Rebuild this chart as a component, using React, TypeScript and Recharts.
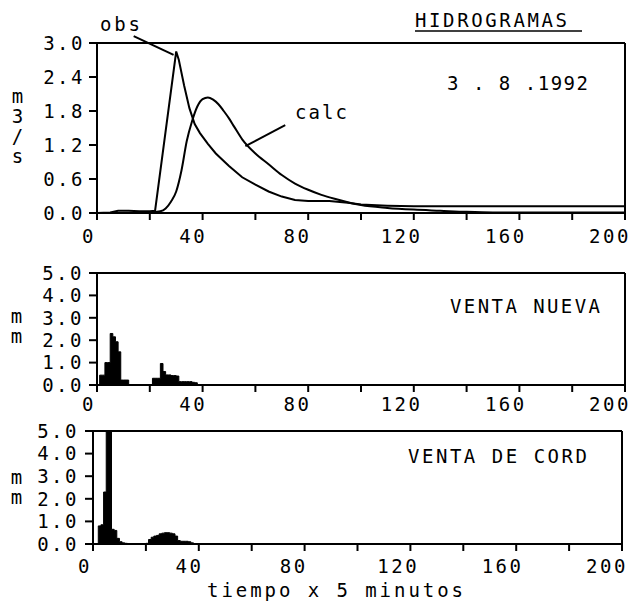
import React from 'react';
import {
  LineChart,
  Line,
  AreaChart,
  Area,
  XAxis,
  YAxis,
  ReferenceLine
} from 'recharts';

const FONT = '"DejaVu Sans Mono", "Liberation Mono", monospace';
const INK = '#000';

// caudal observado (m3/s), paso de tiempo = 5 minutos
const obsTime = [0, 5, 8, 12, 16, 20, 22, 30, 31, 33, 35, 37, 39, 42, 45, 50, 55, 60, 65, 70, 75, 80, 88, 95, 100, 110, 120, 140, 160, 180, 200];
const obsFlow = [0, 0.01, 0.04, 0.04, 0.03, 0.03, 0.04, 2.85, 2.7, 2.25, 1.85, 1.57, 1.41, 1.22, 1.05, 0.83, 0.63, 0.5, 0.38, 0.29, 0.23, 0.21, 0.21, 0.18, 0.15, 0.13, 0.12, 0.12, 0.12, 0.12, 0.12];

// caudal calculado (m3/s)
const calcTime = [0, 20, 24, 26, 28, 30, 32, 34, 36, 38, 40, 42, 44, 46, 48, 50, 52, 55, 60, 65, 70, 75, 80, 85, 90, 95, 100, 110, 120, 130, 140, 150, 200];
const calcFlow = [0, 0.01, 0.03, 0.08, 0.2, 0.38, 0.75, 1.27, 1.62, 1.88, 2.01, 2.04, 2.0, 1.92, 1.8, 1.67, 1.52, 1.3, 1.05, 0.86, 0.67, 0.52, 0.41, 0.32, 0.25, 0.19, 0.14, 0.09, 0.06, 0.04, 0.02, 0.01, 0.01];

// lluvia (mm) por paso de 5 minutos
const rainStep = [0, 1, 2, 3, 4, 5, 6, 7, 8, 9, 10, 11, 12, 13, 14, 15, 16, 17, 18, 19, 20, 21, 22, 23, 24, 25, 26, 27, 28, 29, 30, 31, 32, 33, 34, 35, 36, 37, 38, 39, 40];
const nuevaRain = [0, 0.44, 0.44, 1.0, 1.0, 2.3, 2.15, 1.93, 1.48, 0.22, 0.22, 0.22, 0, 0, 0, 0, 0, 0, 0, 0, 0, 0.3, 0.3, 0.3, 0.96, 0.6, 0.45, 0.45, 0.42, 0.42, 0.4, 0.15, 0.15, 0.15, 0.15, 0.15, 0.12, 0.1, 0, 0, 0];
const cordRain = [0, 0, 0.8, 0.85, 2.3, 5.0, 5.0, 0.65, 0.6, 0.25, 0.1, 0.05, 0.03, 0.02, 0.02, 0.02, 0.02, 0.02, 0.02, 0.02, 0.03, 0.2, 0.3, 0.35, 0.38, 0.45, 0.48, 0.5, 0.5, 0.48, 0.45, 0.35, 0.15, 0.12, 0.12, 0.12, 0.1, 0.05, 0, 0, 0];

const xTicks = [0, 20, 40, 60, 80, 100, 120, 140, 160, 180, 200];
const qTicks = [0, 0.6, 1.2, 1.8, 2.4, 3.0];
const mmTicks = [0, 1, 2, 3, 4, 5];

const obsData = obsTime.map((t, i) => ({ t, q: obsFlow[i] }));
const calcData = calcTime.map((t, i) => ({ t, q: calcFlow[i] }));
const nuevaData = rainStep.map((t, i) => ({ t, mm: nuevaRain[i] }));
const cordData = rainStep.map((t, i) => ({ t, mm: cordRain[i] }));

const tickStyle = { fill: INK, fontSize: 19, fontFamily: FONT, letterSpacing: 2.5 };

// etiquetas del eje x: solo cada 40, algo corridas a la izquierda como en el plotter
const XTick = ({ x, y, payload }: any) => {
  const v = payload.value;
  if (v % 40 !== 0) return null;
  return (
    <text x={x - 8 - (v / 200) * 7} y={y} dy="0.71em" textAnchor="middle" {...tickStyle}>
      {v}
    </text>
  );
};

function RainPanel({ data, top, height, marginTop, yWidth, xHeight, marginRight, tickMargin, xMargin }: any) {
  return (
    <div style={{ position: 'absolute', left: 0, top, width: 632, height }}>
      <AreaChart width={632} height={height} data={data} margin={{ top: marginTop, right: marginRight, bottom: 0, left: 0 }}>
        <XAxis
          dataKey="t"
          type="number"
          domain={[0, 200]}
          ticks={xTicks}
          interval={0}
          height={xHeight}
          tick={<XTick />}
          tickSize={7}
          tickMargin={xMargin}
          stroke={INK}
          strokeWidth={2}
        />
        <YAxis
          type="number"
          domain={[0, 5]}
          ticks={mmTicks}
          interval={0}
          width={yWidth}
          tick={tickStyle}
          tickSize={8}
          tickMargin={tickMargin}
          tickFormatter={(v: number) => v.toFixed(1)}
          stroke={INK}
          strokeWidth={2}
        />
        <ReferenceLine y={5} stroke={INK} strokeWidth={2} />
        <ReferenceLine x={200} stroke={INK} strokeWidth={2} />
        <Area
          type="stepAfter"
          dataKey="mm"
          stroke={INK}
          strokeWidth={1}
          fill={INK}
          fillOpacity={1}
          dot={false}
          activeDot={false}
          isAnimationActive={false}
        />
      </AreaChart>
    </div>
  );
}

// rótulo vertical con letras derechas, una debajo de otra
const StackLabel = ({ x, y, text }: { x: number; y: number; text: string }) => (
  <text
    x={x}
    y={y}
    fontFamily={FONT}
    fontSize={19}
    fill={INK}
    style={{ writingMode: 'vertical-rl', textOrientation: 'upright', letterSpacing: -2 } as any}
  >
    {text}
  </text>
);

export default function App() {
  const txt = { fontFamily: FONT, fontSize: 19, fill: INK } as const;
  return (
    <div style={{ position: 'absolute', left: 0, top: 0, width: 632, height: 606, background: '#fff' }}>
      <div style={{ position: 'absolute', left: 0, top: 0, width: 632, height: 250 }}>
        <LineChart width={632} height={250} margin={{ top: 43, right: 7, bottom: 0, left: 0 }}>
          <XAxis
            dataKey="t"
            type="number"
            domain={[0, 200]}
            ticks={xTicks}
            interval={0}
            height={37}
            tick={<XTick />}
            tickSize={7}
            tickMargin={10}
            stroke={INK}
            strokeWidth={2}
          />
          <YAxis
            type="number"
            domain={[0, 3]}
            ticks={qTicks}
            interval={0}
            width={97}
            tick={tickStyle}
            tickSize={8}
            tickMargin={4}
            tickFormatter={(v: number) => v.toFixed(1)}
            stroke={INK}
            strokeWidth={2}
          />
          <ReferenceLine y={3} stroke={INK} strokeWidth={2} />
          <ReferenceLine x={200} stroke={INK} strokeWidth={2} />
          {/* flechas de las etiquetas */}
          <ReferenceLine segment={[{ x: 13.9, y: 3.12 }, { x: 29, y: 2.79 }]} stroke={INK} strokeWidth={2} ifOverflow="visible" />
          <ReferenceLine segment={[{ x: 71.3, y: 1.55 }, { x: 56.2, y: 1.18 }]} stroke={INK} strokeWidth={2} ifOverflow="visible" />
          <Line data={obsData} dataKey="q" type="linear" stroke={INK} strokeWidth={2} dot={false} activeDot={false} isAnimationActive={false} />
          <Line data={calcData} dataKey="q" type="monotone" stroke={INK} strokeWidth={2} dot={false} activeDot={false} isAnimationActive={false} />
        </LineChart>
      </div>

      <RainPanel data={nuevaData} top={230} height={190} marginTop={43} yWidth={97} xHeight={35} marginRight={7} tickMargin={5} xMargin={6} />
      <RainPanel data={cordData} top={400} height={206} marginTop={31} yWidth={93} xHeight={62} marginRight={10} tickMargin={6} xMargin={9} />

      <svg width={632} height={606} style={{ position: 'absolute', left: 0, top: 0, pointerEvents: 'none' }}>
        <text {...txt} x={100} y={31} textLength={40} lengthAdjust="spacing">obs</text>
        <text {...txt} x={295} y={119} textLength={52} lengthAdjust="spacing">calc</text>
        <text {...txt} x={415} y={27} textLength={152} lengthAdjust="spacing">HIDROGRAMAS</text>
        <line x1={415} y1={31} x2={582} y2={31} stroke={INK} strokeWidth={1.5} />
        <text {...txt} x={447} y={90} textLength={141} lengthAdjust="spacing" style={{ whiteSpace: 'pre' }}>{'3 . 8 .1992'}</text>
        <text {...txt} x={450} y={313} textLength={150} lengthAdjust="spacing" style={{ whiteSpace: 'pre' }}>VENTA NUEVA</text>
        <text {...txt} x={408} y={463} textLength={179} lengthAdjust="spacing" style={{ whiteSpace: 'pre' }}>VENTA DE CORD</text>
        <text {...txt} x={207} y={597} textLength={256} lengthAdjust="spacing" style={{ whiteSpace: 'pre' }}>tiempo x 5 minutos</text>

        {/* rótulos de los ejes y */}
        <StackLabel x={17.5} y={85} text="m3/s" />
        <StackLabel x={16.5} y={305} text="mm" />
        <StackLabel x={16.5} y={466} text="mm" />
      </svg>
    </div>
  );
}
